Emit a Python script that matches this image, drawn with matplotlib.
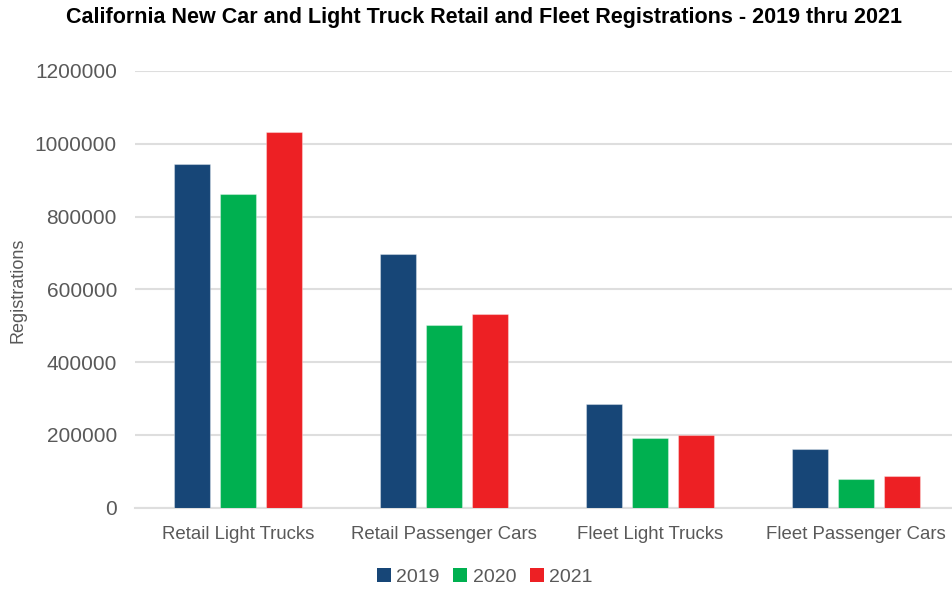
import matplotlib
matplotlib.use("Agg")
import matplotlib.pyplot as plt
from matplotlib.patches import Patch
import numpy as np

categories = ["Retail Light Trucks", "Retail Passenger Cars", "Fleet Light Trucks", "Fleet Passenger Cars"]
years = ["2019", "2020", "2021"]
reg_2019 = [943500, 698300, 286000, 160500]
reg_2020 = [863000, 502300, 191300, 78200]
reg_2021 = [1032000, 533600, 199000, 88300]
yticks = [0, 200000, 400000, 600000, 800000, 1000000, 1200000]

colors = ["#174677", "#00B050", "#ED2024"]
series = [reg_2019, reg_2020, reg_2021]

plt.rcParams["font.family"] = ["Liberation Sans", "DejaVu Sans"]
tick_gray = "#595959"

W, H = 953, 589
fig = plt.figure(figsize=(W / 100, H / 100), dpi=100)
ax = fig.add_axes([135 / W, (H - 507.7) / H, 824 / W, 436.7 / H])

x = np.arange(len(categories))
bw = 0.176
step = 0.222
for i, (vals, c) in enumerate(zip(series, colors)):
    ax.bar(x + (i - 1) * step, vals, width=bw, color=c,
           edgecolor=(1, 1, 1, 0.35), linewidth=0.8, zorder=3)

ax.set_xlim(-0.5, 3.5)
ax.set_ylim(0, 1200000)
ax.set_yticks(yticks)
ax.set_yticklabels([str(v) for v in yticks])
ax.set_xticks(x)
ax.set_xticklabels(categories)
ax.grid(axis="y", color="#dedede", linewidth=1.5, zorder=0)
ax.set_axisbelow(True)
for s in ["top", "right", "left"]:
    ax.spines[s].set_visible(False)
ax.spines["bottom"].set_color("#dedede")
ax.spines["bottom"].set_linewidth(1.5)
ax.tick_params(axis="y", length=0, pad=13, labelsize=15, labelcolor=tick_gray)
ax.tick_params(axis="x", length=0, pad=13, labelsize=13.4, labelcolor=tick_gray)

fig.text(18 / W, 1 - 290 / H, "Registrations", rotation=90, ha="center", va="center",
         fontsize=13, color=tick_gray)

fig.text(484 / W, 1 - 18 / H, "California New Car and Light Truck Retail and Fleet Registrations - 2019 thru 2021",
         ha="center", va="center", fontsize=15.5, fontweight="bold", color="black")

handles = [Patch(facecolor=c, edgecolor="none") for c in colors]
fig.legend(handles, years, loc="center", bbox_to_anchor=(485 / W, 1 - 577 / H), ncol=3,
           frameon=False, fontsize=14, labelcolor=tick_gray, handlelength=0.7,
           handleheight=0.7, handletextpad=0.3, columnspacing=0.7)

fig.savefig("out.png", dpi=100)
